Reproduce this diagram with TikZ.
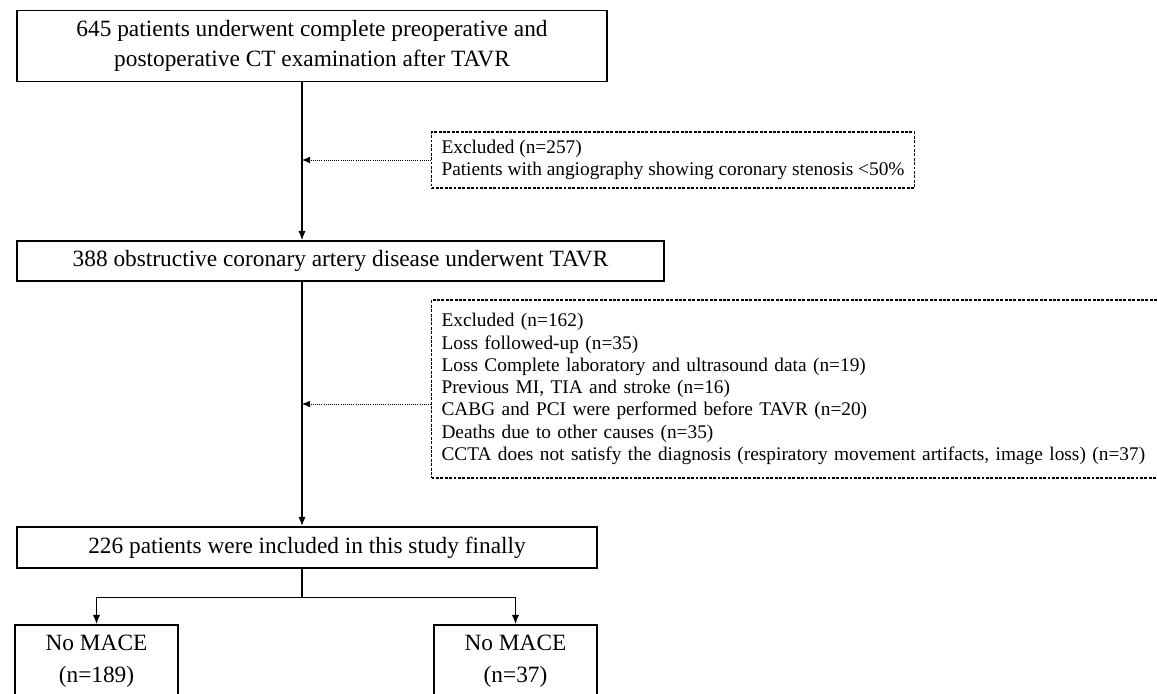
\documentclass[tikz,border=0pt]{standalone}
\usepackage{fontspec}
\setmainfont{Liberation Serif}
\usetikzlibrary{arrows.meta}
\usetikzlibrary{calc}

\begin{document}
\begin{tikzpicture}[x=0.75pt,y=-0.75pt,
    bigbox/.style={draw,line width=1.1pt,align=center,inner sep=0pt,font=\fontsize{17.5}{23}\selectfont},
    exclbox/.style={draw,dash pattern=on 2.2pt off 1.1pt,line width=0.8pt,align=left,inner xsep=7.5pt,inner ysep=0pt,anchor=west,font=\fontsize{14.5}{16.7}\selectfont},
    flow/.style={-{Latex[length=7pt,width=5.5pt]}},
    side/.style={-{Latex[length=6pt,width=5pt]},densely dotted,line width=0.6pt}]
            \clip (0,0) rectangle (1157,693);
            \coordinate (spine) at (302,0);
            \node[bigbox,minimum width=442.5pt,minimum height=53.25pt] (screen) at (312,46) {645 patients underwent complete preoperative and\\postoperative CT examination after TAVR};
            \node[bigbox,minimum width=485.25pt,minimum height=30pt] (cad) at (340.5,261) {388 obstructive coronary artery disease underwent TAVR};
            \node[bigbox,minimum width=435pt,minimum height=30.75pt] (final) at (307,547.5) {226 patients were included in this study finally};
            \node[bigbox,minimum width=122.25pt,minimum height=54pt,font=\fontsize{17.5}{24}\selectfont] (nomace) at (96.5,661) {No MACE\\(n=189)};
            \node[bigbox,minimum width=122.25pt,minimum height=54pt,font=\fontsize{17.5}{24}\selectfont] (mace) at (515.5,661) {No MACE\\(n=37)};
            \node[exclbox,minimum height=42pt] (excla) at (431,160) {Excluded (n=257)\\Patients with angiography showing coronary stenosis <50\%};
            \node[exclbox,minimum height=133.5pt,text width=555pt] (exclb) at (431,389) {Excluded (n=162)\\Loss followed-up (n=35)\\Loss Complete laboratory and ultrasound data (n=19)\\Previous MI, TIA and stroke (n=16)\\CABG and PCI were performed before TAVR (n=20)\\Deaths due to other causes (n=35)\\CCTA does not satisfy the diagnosis (respiratory movement artifacts, image loss) (n=37)};
            \coordinate (exclbin) at ([yshift=-11.25pt]exclb.west);
            \draw[flow,line width=1pt] (screen.south -| spine) -- (cad.north -| spine);
            \draw[flow,line width=1.6pt] (cad.south -| spine) -- (final.north -| spine);
            \draw[side] (excla.west) -- (excla.west -| spine);
            \draw[side] (exclbin) -- (exclbin -| spine);
            \draw[line width=1.1pt] (final.south -| spine) -- ++(0,29) coordinate (split);
            \draw[flow,line width=1.1pt] (split) -| (nomace.north);
            \draw[flow,line width=1.1pt] (split) -| (mace.north);
        \end{tikzpicture}
\end{document}
